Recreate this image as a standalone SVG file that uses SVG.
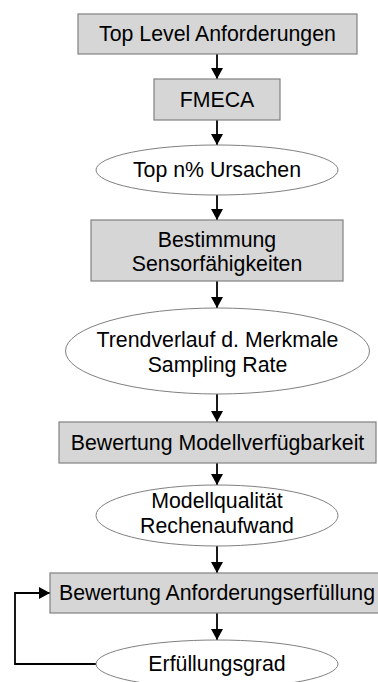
<svg xmlns="http://www.w3.org/2000/svg" width="378" height="682" viewBox="0 0 378 682">
  <defs>
    <marker id="arrow" markerWidth="11" markerHeight="12" refX="11" refY="6" orient="auto" markerUnits="userSpaceOnUse">
      <path d="M0,0 L11,6 L0,12 Z" fill="#000"/>
    </marker>
    <style>
      .box { fill: #d6d6d6; stroke: #808080; stroke-width: 1.2; }
      .oval { fill: #ffffff; stroke: #808080; stroke-width: 1; }
      .lbl { font-family: "Liberation Sans", Arial, sans-serif; font-size: 21.3px; fill: #000; text-anchor: middle; }
      .edge { fill: none; stroke: #000; stroke-width: 1.8; marker-end: url(#arrow); }
    </style>
  </defs>
  <rect width="378" height="682" fill="#ffffff"/>

  <g id="connectors">
    <line class="edge" x1="217" y1="54" x2="217" y2="79"/>
    <line class="edge" x1="217" y1="120" x2="217" y2="145"/>
    <line class="edge" x1="217" y1="195" x2="217" y2="220"/>
    <line class="edge" x1="217" y1="281" x2="217" y2="308"/>
    <line class="edge" x1="217" y1="394" x2="217" y2="422"/>
    <line class="edge" x1="217" y1="463" x2="217" y2="485"/>
    <line class="edge" x1="217" y1="546" x2="217" y2="573"/>
    <line class="edge" x1="217" y1="613" x2="217" y2="640"/>
    <polyline class="edge" points="96,664 15,664 15,593 50,593"/>
  </g>

  <g id="top-level">
    <rect class="box" x="78" y="14" width="279" height="40"/>
    <text class="lbl" x="217.5" y="41">Top Level Anforderungen</text>
  </g>

  <g id="fmeca">
    <rect class="box" x="154" y="79" width="126" height="41"/>
    <text class="lbl" x="217" y="107">FMECA</text>
  </g>

  <g id="ursachen">
    <ellipse class="oval" cx="217" cy="170" rx="121" ry="25"/>
    <text class="lbl" x="217" y="177">Top n% Ursachen</text>
  </g>

  <g id="sensor">
    <rect class="box" x="91" y="220" width="252" height="61"/>
    <text class="lbl" x="217" y="247">Bestimmung</text>
    <text class="lbl" x="217" y="271">Sensorfähigkeiten</text>
  </g>

  <g id="trend">
    <ellipse class="oval" cx="217.5" cy="351" rx="152" ry="43"/>
    <text class="lbl" x="217.5" y="347">Trendverlauf d. Merkmale</text>
    <text class="lbl" x="217.5" y="372">Sampling Rate</text>
  </g>

  <g id="modell">
    <rect class="box" x="59" y="422" width="317" height="41"/>
    <text class="lbl" x="217.5" y="450">Bewertung Modellverfügbarkeit</text>
  </g>

  <g id="qualitaet">
    <ellipse class="oval" cx="217" cy="515.5" rx="121" ry="30.5"/>
    <text class="lbl" x="217" y="508">Modellqualität</text>
    <text class="lbl" x="217" y="533">Rechenaufwand</text>
  </g>

  <g id="anforderung">
    <rect class="box" x="50" y="573" width="335" height="40"/>
    <text class="lbl" x="217" y="600">Bewertung Anforderungserfüllung</text>
  </g>

  <g id="grad">
    <ellipse class="oval" cx="217" cy="664" rx="121" ry="24"/>
    <text class="lbl" x="217" y="671">Erfüllungsgrad</text>
  </g>
</svg>
